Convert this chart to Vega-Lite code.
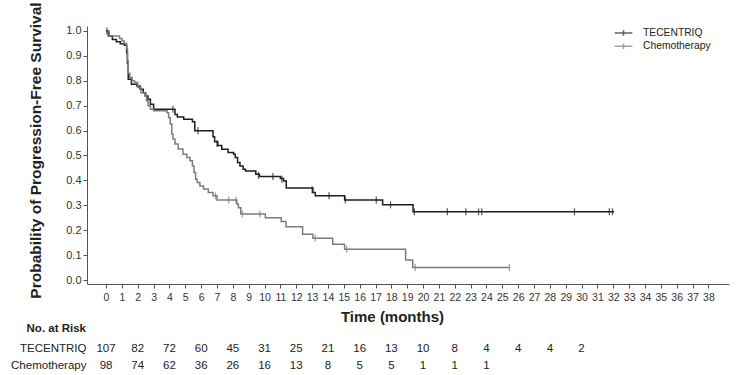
{
  "$schema": "https://vega.github.io/schema/vega-lite/v6.json",
  "padding": {"left": 10, "top": 1, "right": 17, "bottom": 0},
  "background": "white",
  "config": {
    "view": {"stroke": null},
    "font": "Liberation Sans",
    "concat": {"spacing": -2},
    "axis": {"domainColor": "#555", "tickColor": "#555", "labelColor": "#333", "titleColor": "#222", "grid": false}
  },
  "datasets": {
    "curve": [
      {"arm": "TECENTRIQ", "month": 0, "surv": 1.0},
      {"arm": "TECENTRIQ", "month": 0.15, "surv": 0.98},
      {"arm": "TECENTRIQ", "month": 0.4, "surv": 0.966},
      {"arm": "TECENTRIQ", "month": 0.65, "surv": 0.957},
      {"arm": "TECENTRIQ", "month": 0.9, "surv": 0.949},
      {"arm": "TECENTRIQ", "month": 1.15, "surv": 0.943},
      {"arm": "TECENTRIQ", "month": 1.3, "surv": 0.913},
      {"arm": "TECENTRIQ", "month": 1.35, "surv": 0.87},
      {"arm": "TECENTRIQ", "month": 1.4, "surv": 0.806},
      {"arm": "TECENTRIQ", "month": 1.6, "surv": 0.786},
      {"arm": "TECENTRIQ", "month": 1.95, "surv": 0.779},
      {"arm": "TECENTRIQ", "month": 2.15, "surv": 0.766},
      {"arm": "TECENTRIQ", "month": 2.35, "surv": 0.752},
      {"arm": "TECENTRIQ", "month": 2.5, "surv": 0.739},
      {"arm": "TECENTRIQ", "month": 2.65, "surv": 0.726},
      {"arm": "TECENTRIQ", "month": 2.8, "surv": 0.706},
      {"arm": "TECENTRIQ", "month": 3.0, "surv": 0.686},
      {"arm": "TECENTRIQ", "month": 4.35, "surv": 0.665},
      {"arm": "TECENTRIQ", "month": 4.5, "surv": 0.655},
      {"arm": "TECENTRIQ", "month": 4.9, "surv": 0.646},
      {"arm": "TECENTRIQ", "month": 5.45, "surv": 0.636},
      {"arm": "TECENTRIQ", "month": 5.6, "surv": 0.599},
      {"arm": "TECENTRIQ", "month": 6.75, "surv": 0.575},
      {"arm": "TECENTRIQ", "month": 6.85, "surv": 0.555},
      {"arm": "TECENTRIQ", "month": 7.05, "surv": 0.54},
      {"arm": "TECENTRIQ", "month": 7.3, "surv": 0.525},
      {"arm": "TECENTRIQ", "month": 7.7, "surv": 0.512},
      {"arm": "TECENTRIQ", "month": 8.05, "surv": 0.505},
      {"arm": "TECENTRIQ", "month": 8.15, "surv": 0.492},
      {"arm": "TECENTRIQ", "month": 8.3, "surv": 0.472},
      {"arm": "TECENTRIQ", "month": 8.45, "surv": 0.458},
      {"arm": "TECENTRIQ", "month": 8.65, "surv": 0.445},
      {"arm": "TECENTRIQ", "month": 8.8, "surv": 0.438},
      {"arm": "TECENTRIQ", "month": 9.45, "surv": 0.425},
      {"arm": "TECENTRIQ", "month": 9.68, "surv": 0.416},
      {"arm": "TECENTRIQ", "month": 11.0, "surv": 0.408},
      {"arm": "TECENTRIQ", "month": 11.2, "surv": 0.398},
      {"arm": "TECENTRIQ", "month": 11.37, "surv": 0.369},
      {"arm": "TECENTRIQ", "month": 13.05, "surv": 0.351},
      {"arm": "TECENTRIQ", "month": 13.2, "surv": 0.338},
      {"arm": "TECENTRIQ", "month": 15.05, "surv": 0.321},
      {"arm": "TECENTRIQ", "month": 17.45, "surv": 0.302},
      {"arm": "TECENTRIQ", "month": 19.37, "surv": 0.274},
      {"arm": "TECENTRIQ", "month": 32.05, "surv": 0.274},
      {"arm": "Chemotherapy", "month": 0, "surv": 1.0},
      {"arm": "Chemotherapy", "month": 0.2, "surv": 0.98},
      {"arm": "Chemotherapy", "month": 0.85, "surv": 0.97},
      {"arm": "Chemotherapy", "month": 1.0, "surv": 0.96},
      {"arm": "Chemotherapy", "month": 1.15, "surv": 0.95},
      {"arm": "Chemotherapy", "month": 1.3, "surv": 0.93},
      {"arm": "Chemotherapy", "month": 1.35, "surv": 0.88},
      {"arm": "Chemotherapy", "month": 1.4, "surv": 0.83},
      {"arm": "Chemotherapy", "month": 1.5, "surv": 0.813},
      {"arm": "Chemotherapy", "month": 1.65, "surv": 0.8},
      {"arm": "Chemotherapy", "month": 1.8, "surv": 0.793},
      {"arm": "Chemotherapy", "month": 2.0, "surv": 0.773},
      {"arm": "Chemotherapy", "month": 2.2, "surv": 0.752},
      {"arm": "Chemotherapy", "month": 2.45, "surv": 0.739},
      {"arm": "Chemotherapy", "month": 2.55, "surv": 0.72},
      {"arm": "Chemotherapy", "month": 2.65, "surv": 0.7},
      {"arm": "Chemotherapy", "month": 2.8, "surv": 0.686},
      {"arm": "Chemotherapy", "month": 3.0, "surv": 0.68},
      {"arm": "Chemotherapy", "month": 3.85, "surv": 0.672},
      {"arm": "Chemotherapy", "month": 3.95, "surv": 0.652},
      {"arm": "Chemotherapy", "month": 4.05, "surv": 0.626},
      {"arm": "Chemotherapy", "month": 4.15, "surv": 0.586},
      {"arm": "Chemotherapy", "month": 4.22, "surv": 0.566},
      {"arm": "Chemotherapy", "month": 4.35, "surv": 0.546},
      {"arm": "Chemotherapy", "month": 4.55, "surv": 0.526},
      {"arm": "Chemotherapy", "month": 4.85, "surv": 0.505},
      {"arm": "Chemotherapy", "month": 5.1, "surv": 0.492},
      {"arm": "Chemotherapy", "month": 5.3, "surv": 0.479},
      {"arm": "Chemotherapy", "month": 5.45, "surv": 0.458},
      {"arm": "Chemotherapy", "month": 5.55, "surv": 0.432},
      {"arm": "Chemotherapy", "month": 5.65, "surv": 0.405},
      {"arm": "Chemotherapy", "month": 5.75, "surv": 0.392},
      {"arm": "Chemotherapy", "month": 5.92, "surv": 0.378},
      {"arm": "Chemotherapy", "month": 6.15, "surv": 0.365},
      {"arm": "Chemotherapy", "month": 6.45, "surv": 0.351},
      {"arm": "Chemotherapy", "month": 6.75, "surv": 0.338},
      {"arm": "Chemotherapy", "month": 7.0, "surv": 0.321},
      {"arm": "Chemotherapy", "month": 8.25, "surv": 0.305},
      {"arm": "Chemotherapy", "month": 8.35, "surv": 0.29},
      {"arm": "Chemotherapy", "month": 8.5, "surv": 0.265},
      {"arm": "Chemotherapy", "month": 10.05, "surv": 0.25},
      {"arm": "Chemotherapy", "month": 11.05, "surv": 0.235},
      {"arm": "Chemotherapy", "month": 11.35, "surv": 0.214},
      {"arm": "Chemotherapy", "month": 12.4, "surv": 0.184},
      {"arm": "Chemotherapy", "month": 13.05, "surv": 0.168},
      {"arm": "Chemotherapy", "month": 14.3, "surv": 0.144},
      {"arm": "Chemotherapy", "month": 15.05, "surv": 0.124},
      {"arm": "Chemotherapy", "month": 18.9, "surv": 0.08},
      {"arm": "Chemotherapy", "month": 19.35, "surv": 0.05},
      {"arm": "Chemotherapy", "month": 25.45, "surv": 0.05}
    ],
    "censor": [
      {"arm": "TECENTRIQ", "month": 0.05, "surv": 1.0},
      {"arm": "TECENTRIQ", "month": 4.22, "surv": 0.686},
      {"arm": "TECENTRIQ", "month": 5.8, "surv": 0.599},
      {"arm": "TECENTRIQ", "month": 7.0, "surv": 0.548},
      {"arm": "TECENTRIQ", "month": 9.62, "surv": 0.42},
      {"arm": "TECENTRIQ", "month": 10.53, "surv": 0.416},
      {"arm": "TECENTRIQ", "month": 11.09, "surv": 0.405},
      {"arm": "TECENTRIQ", "month": 13.0, "surv": 0.362},
      {"arm": "TECENTRIQ", "month": 14.07, "surv": 0.338},
      {"arm": "TECENTRIQ", "month": 15.1, "surv": 0.321},
      {"arm": "TECENTRIQ", "month": 17.05, "surv": 0.321},
      {"arm": "TECENTRIQ", "month": 17.95, "surv": 0.302},
      {"arm": "TECENTRIQ", "month": 19.45, "surv": 0.274},
      {"arm": "TECENTRIQ", "month": 21.53, "surv": 0.274},
      {"arm": "TECENTRIQ", "month": 22.7, "surv": 0.274},
      {"arm": "TECENTRIQ", "month": 23.5, "surv": 0.274},
      {"arm": "TECENTRIQ", "month": 23.7, "surv": 0.274},
      {"arm": "TECENTRIQ", "month": 29.55, "surv": 0.274},
      {"arm": "TECENTRIQ", "month": 31.75, "surv": 0.274},
      {"arm": "TECENTRIQ", "month": 31.95, "surv": 0.274},
      {"arm": "Chemotherapy", "month": 6.9, "surv": 0.338},
      {"arm": "Chemotherapy", "month": 7.74, "surv": 0.321},
      {"arm": "Chemotherapy", "month": 8.2, "surv": 0.321},
      {"arm": "Chemotherapy", "month": 8.6, "surv": 0.265},
      {"arm": "Chemotherapy", "month": 9.7, "surv": 0.265},
      {"arm": "Chemotherapy", "month": 13.2, "surv": 0.168},
      {"arm": "Chemotherapy", "month": 15.18, "surv": 0.124},
      {"arm": "Chemotherapy", "month": 19.5, "surv": 0.05},
      {"arm": "Chemotherapy", "month": 25.45, "surv": 0.05}
    ],
    "risk": [
      {"arm": "TECENTRIQ", "month": 0, "n": 107},
      {"arm": "TECENTRIQ", "month": 2, "n": 82},
      {"arm": "TECENTRIQ", "month": 4, "n": 72},
      {"arm": "TECENTRIQ", "month": 6, "n": 60},
      {"arm": "TECENTRIQ", "month": 8, "n": 45},
      {"arm": "TECENTRIQ", "month": 10, "n": 31},
      {"arm": "TECENTRIQ", "month": 12, "n": 25},
      {"arm": "TECENTRIQ", "month": 14, "n": 21},
      {"arm": "TECENTRIQ", "month": 16, "n": 16},
      {"arm": "TECENTRIQ", "month": 18, "n": 13},
      {"arm": "TECENTRIQ", "month": 20, "n": 10},
      {"arm": "TECENTRIQ", "month": 22, "n": 8},
      {"arm": "TECENTRIQ", "month": 24, "n": 4},
      {"arm": "TECENTRIQ", "month": 26, "n": 4},
      {"arm": "TECENTRIQ", "month": 28, "n": 4},
      {"arm": "TECENTRIQ", "month": 30, "n": 2},
      {"arm": "Chemotherapy", "month": 0, "n": 98},
      {"arm": "Chemotherapy", "month": 2, "n": 74},
      {"arm": "Chemotherapy", "month": 4, "n": 62},
      {"arm": "Chemotherapy", "month": 6, "n": 36},
      {"arm": "Chemotherapy", "month": 8, "n": 26},
      {"arm": "Chemotherapy", "month": 10, "n": 16},
      {"arm": "Chemotherapy", "month": 12, "n": 13},
      {"arm": "Chemotherapy", "month": 14, "n": 8},
      {"arm": "Chemotherapy", "month": 16, "n": 5},
      {"arm": "Chemotherapy", "month": 18, "n": 5},
      {"arm": "Chemotherapy", "month": 20, "n": 1},
      {"arm": "Chemotherapy", "month": 22, "n": 1},
      {"arm": "Chemotherapy", "month": 24, "n": 1}
    ]
  },
  "vconcat": [
    {
      "width": 642,
      "height": 258,
      "encoding": {
        "x": {
          "field": "month", "type": "quantitative",
          "scale": {"domain": [-1.2, 39.3], "nice": false, "zero": false},
          "axis": {
            "title": "Time (months)",
            "values": [0,1,2,3,4,5,6,7,8,9,10,11,12,13,14,15,16,17,18,19,20,21,22,23,24,25,26,27,28,29,30,31,32,33,34,35,36,37,38],
            "format": "d", "labelOverlap": false, "labelFlush": false,
            "labelFontSize": 10.5, "labelPadding": 4, "tickSize": 4,
            "titleFontSize": 15, "titleFontWeight": "bold", "titlePadding": 7, "titleX": 305
          }
        },
        "y": {
          "field": "surv", "type": "quantitative",
          "scale": {"domain": [-0.016, 1.02], "nice": false, "zero": false},
          "axis": {
            "title": "Probability of Progression-Free Survival",
            "values": [0,0.1,0.2,0.3,0.4,0.5,0.6,0.7,0.8,0.9,1.0],
            "format": ".1f", "labelFontSize": 11, "labelPadding": 2, "tickSize": 4,
            "titleFontSize": 15.5, "titleFontWeight": "bold", "titlePadding": 22, "titleY": 124
          }
        },
        "color": {
          "field": "arm", "type": "nominal",
          "scale": {"domain": ["TECENTRIQ", "Chemotherapy"], "range": ["#1e1e1e", "#7c7c7c"]},
          "legend": {
            "orient": "none", "legendX": 530, "legendY": 0.5, "title": null,
            "symbolType": "M-1.6,0L1.6,0M0,-0.5L0,0.5", "symbolSize": 121, "symbolStrokeWidth": 1.6,
            "labelFontSize": 10.3, "labelColor": "#222", "labelOffset": 13, "rowPadding": 0.3, "padding": 0
          }
        }
      },
      "layer": [
        {
          "data": {"name": "curve"},
          "mark": {"type": "line", "interpolate": "step-after", "strokeWidth": 1.5}
        },
        {
          "data": {"name": "censor"},
          "mark": {"type": "tick", "orient": "vertical", "size": 7, "thickness": 1.3}
        }
      ]
    },
    {
      "width": 642,
      "height": 34,
      "title": {"text": "No. at Risk", "anchor": "start", "frame": "group", "align": "right", "dx": -1, "fontSize": 11.5, "fontWeight": "bold", "font": "Liberation Sans", "color": "#222", "offset": 5.5},
      "data": {"name": "risk"},
      "mark": {"type": "text", "fontSize": 11.5, "font": "Liberation Sans", "color": "#222"},
      "encoding": {
        "x": {"field": "month", "type": "quantitative", "scale": {"domain": [-1.2, 39.3], "nice": false, "zero": false}, "axis": null},
        "y": {
          "field": "arm", "type": "nominal", "sort": ["TECENTRIQ", "Chemotherapy"],
          "scale": {"type": "point", "padding": 0.5},
          "axis": {"title": null, "domain": false, "ticks": false, "labelFontSize": 11.5, "labelFont": "Liberation Sans", "labelColor": "#222", "labelPadding": 1}
        },
        "text": {"field": "n", "type": "quantitative"}
      }
    }
  ]
}
